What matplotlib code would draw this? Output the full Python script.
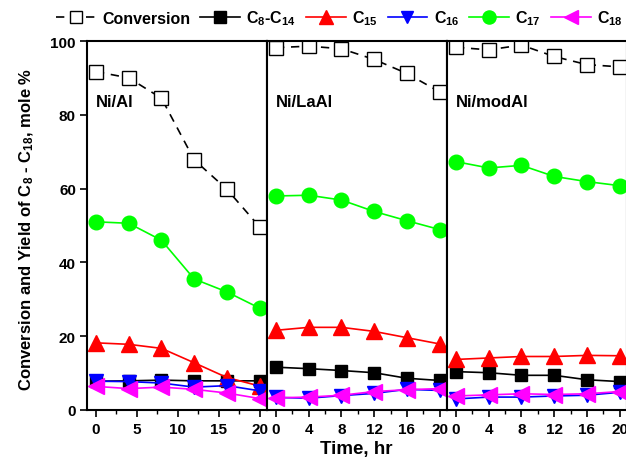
import matplotlib
matplotlib.use("Agg")
import matplotlib.pyplot as plt
from matplotlib.ticker import AutoMinorLocator

plt.rcParams["font.family"] = ["Liberation Sans", "DejaVu Sans"]
plt.rcParams["font.weight"] = "bold"
plt.rcParams["mathtext.default"] = "regular"

time = [0, 4, 8, 12, 16, 20]
catalysts = ["Ni/Al", "Ni/LaAl", "Ni/modAl"]
xticks = [[0, 5, 10, 15, 20], [0, 4, 8, 12, 16, 20], [0, 4, 8, 12, 16, 20]]

conversion = [
    [91.7, 90.0, 84.5, 67.8, 59.8, 49.6],
    [98.2, 98.6, 97.9, 95.0, 91.2, 86.2],
    [98.3, 97.6, 98.9, 95.8, 93.6, 93.0],
]
c8_c14 = [
    [7.8, 7.9, 8.1, 7.9, 7.9, 7.9],
    [11.6, 11.2, 10.7, 10.1, 8.6, 8.0],
    [10.4, 10.1, 9.4, 9.4, 8.2, 7.7],
]
c15 = [
    [18.2, 17.8, 16.7, 12.8, 8.8, 6.5],
    [21.6, 22.4, 22.4, 21.3, 19.6, 17.9],
    [13.7, 14.1, 14.5, 14.5, 14.8, 14.7],
]
c16 = [
    [7.8, 7.7, 7.3, 6.2, 6.6, 5.2],
    [3.4, 3.2, 3.9, 4.5, 5.6, 5.3],
    [3.0, 3.5, 3.5, 3.8, 4.0, 4.8],
]
c17 = [
    [51.0, 50.6, 46.0, 35.5, 32.0, 27.6],
    [58.0, 58.2, 56.9, 53.8, 51.3, 48.9],
    [67.3, 65.6, 66.3, 63.3, 61.9, 60.8],
]
c18 = [
    [6.4, 5.8, 6.2, 5.6, 4.6, 3.1],
    [3.3, 3.5, 4.0, 5.0, 5.5, 5.8],
    [3.8, 4.1, 4.4, 4.2, 4.4, 5.0],
]

fig = plt.figure(figsize=(6.26, 4.64), dpi=100)

left, bottom, height = 87 / 626, 1 - 411 / 464, (411 - 42) / 464
width = 180 / 626

axes = []
for i in range(3):
    ax = fig.add_axes([left + i * width, bottom, width, height])
    axes.append(ax)

    ax.plot(time, conversion[i], color="black", linestyle=(0, (5, 4)), lw=1.2,
            marker="s", ms=10, mfc="white", mec="black", mew=1.0,
            label="Conversion")
    ax.plot(time, c8_c14[i], color="black", lw=1.2, marker="s", ms=9,
            label="C$_8$-C$_{14}$")
    ax.plot(time, c15[i], color="#ff0000", lw=1.2, marker="^", ms=11,
            label="C$_{15}$")
    ax.plot(time, c16[i], color="#0000ff", lw=1.2, marker="v", ms=10,
            label="C$_{16}$")
    ax.plot(time, c17[i], color="#00ff00", lw=1.2, marker="o", ms=10.5,
            label="C$_{17}$")
    ax.plot(time, c18[i], color="#ff00ff", lw=1.2, marker="<", ms=11,
            label="C$_{18}$")

    ax.set_xlim(-1.1, 20.9)
    ax.set_ylim(0, 100)
    ax.set_xticks(xticks[i])
    ax.xaxis.set_minor_locator(AutoMinorLocator(2))
    ax.tick_params(axis="x", which="major", direction="out", length=5,
                   width=1.2, labelsize=11, pad=4)
    ax.tick_params(axis="x", which="minor", direction="out", length=3, width=1)
    for sp in ax.spines.values():
        sp.set_linewidth(1.5)

    if i == 0:
        ax.set_yticks([0, 20, 40, 60, 80, 100])
        ax.tick_params(axis="y", direction="out", length=5, width=1.2,
                       labelsize=11, pad=3)
    else:
        ax.tick_params(axis="y", left=False, labelleft=False)

    ax.text(0.05, 0.835, catalysts[i], transform=ax.transAxes,
            fontsize=12, fontweight="bold", va="center", ha="left")

handles, labels = axes[0].get_legend_handles_labels()
fig.legend(handles, labels, loc="center left", bbox_to_anchor=(56 / 626, 1 - 19 / 464),
           ncol=6, frameon=False, fontsize=11.5, handlelength=2.5,
           handletextpad=0.4, columnspacing=0.6, borderaxespad=0, borderpad=0,
           markerscale=0.9)

fig.text(27 / 626, 0.505, "Conversion and Yield of C$_8$ - C$_{18}$, mole %",
         rotation=90, ha="center", va="center", fontsize=12, fontweight="bold")
fig.text(356 / 626, 1 - 450 / 464, "Time, hr", ha="center", va="center",
         fontsize=13.5, fontweight="bold")

fig.savefig("out.png", dpi=100)
